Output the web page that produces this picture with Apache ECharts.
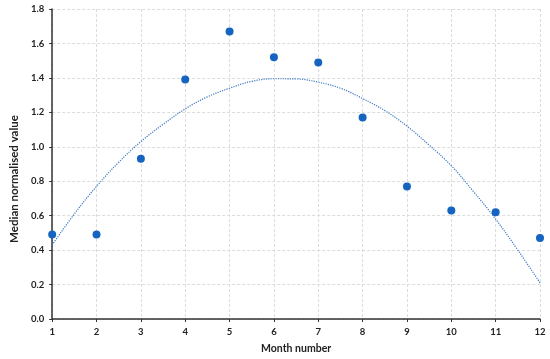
<!DOCTYPE html>
<html>
<head>
<meta charset="utf-8">
<script src="https://cdn.jsdelivr.net/npm/echarts@6/dist/echarts.min.js"></script>
<style>html,body{margin:0;padding:0;background:#fff}#c{width:550px;height:359px}</style>
</head>
<body>
<div id="c"></div>
<script>
const months = [1,2,3,4,5,6,7,8,9,10,11,12];
const medianValues = [0.49,0.49,0.93,1.39,1.67,1.52,1.49,1.17,0.77,0.63,0.62,0.47];
// trendline, every half month
const trendX = [1,1.5,2,2.5,3,3.5,4,4.5,5,5.5,6,6.5,7,7.5,8,8.5,9,9.5,10,10.5,11,11.5,12];
const trendValues = [0.43,0.61,0.77,0.91,1.03,1.13,1.22,1.29,1.34,1.38,1.395,1.394,1.375,1.34,1.28,1.21,1.12,1.01,0.89,0.74,0.58,0.40,0.21];
const xAxisTitle = 'Month number';
const yAxisTitle = 'Median normalised value';

const chart = echarts.init(document.getElementById('c'), null, {renderer:'canvas'});
const font = 'Lato, "Open Sans", sans-serif';
chart.setOption({
  animation: false,
  grid: {left: 40, right: 10, top: 9, bottom: 35, containLabel: false},
  xAxis: {
    type: 'value', min: 1, max: 12, interval: 1,
    name: xAxisTitle, nameLocation: 'middle', nameGap: 24,
    nameTextStyle: {fontFamily: font, fontWeight: 'bold', fontSize: 10.5, color: '#222'},
    axisLine: {lineStyle: {color: '#333', width: 1.5}},
    axisTick: {show: true, length: 3, lineStyle: {color: '#333'}},
    axisLabel: {fontFamily: font, fontWeight: 'bold', fontSize: 9.5, color: '#222', margin: 8},
    splitLine: {show: true, lineStyle: {color: '#dcdcdc', type: [3,2], width: 1}}
  },
  yAxis: {
    type: 'value', min: 0, max: 1.8, interval: 0.2,
    name: yAxisTitle, nameLocation: 'middle', nameGap: 30,
    nameTextStyle: {fontFamily: font, fontWeight: 'bold', fontSize: 11.5, color: '#222', padding: [0, 30, 0, 0]},
    axisLine: {show: true, lineStyle: {color: '#333', width: 1.5}},
    axisTick: {show: true, length: 3, lineStyle: {color: '#333'}},
    axisLabel: {fontFamily: font, fontWeight: 'bold', fontSize: 9.5, color: '#222', margin: 8,
      formatter: v => v.toFixed(1)},
    splitLine: {show: true, lineStyle: {color: '#dcdcdc', type: [3,2], width: 1}}
  },
  series: [
    {
      type: 'line',
      data: trendX.map((m,i) => [m, trendValues[i]]),
      smooth: 0.4,
      showSymbol: false,
      lineStyle: {color: '#3a78c4', width: 1.2, type: [1.2,1.2]},
      z: 2
    },
    {
      type: 'scatter',
      data: months.map((m,i) => [m, medianValues[i]]),
      symbolSize: 8,
      itemStyle: {color: '#1565c0', opacity: 1},
      z: 3
    }
  ]
});
</script>
</body>
</html>
